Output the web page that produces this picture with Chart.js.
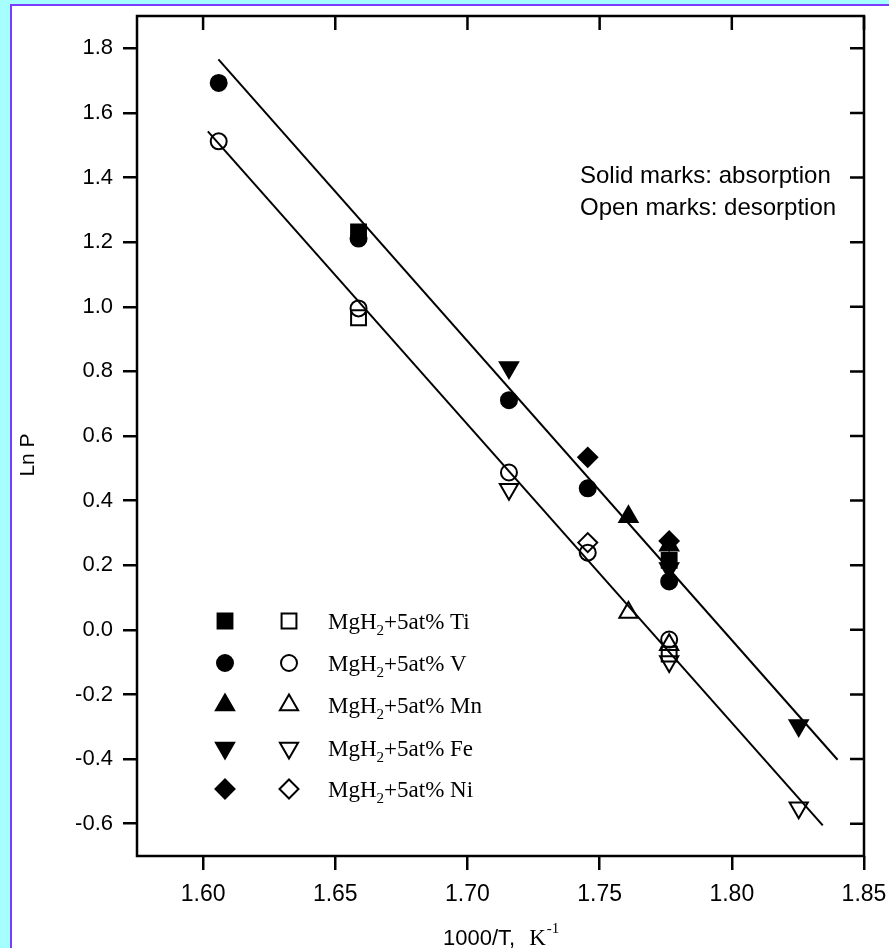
<!DOCTYPE html>
<html>
<head>
<meta charset="utf-8">
<script src="https://cdn.jsdelivr.net/npm/chart.js@4.4.1/dist/chart.umd.min.js"></script>
<style>
  body { margin: 0; background: #a6ffff; }
  canvas { display: block; }
</style>
</head>
<body>
<canvas id="plot" width="889" height="948"></canvas>
<script>
// x = 1000/T (K^-1), y = Ln P ; [x, y] pairs
const tiSolid = [[1.6588, 1.232], [1.7763, 0.215]];
const tiOpen  = [[1.6588, 0.966], [1.7763, -0.075]];
const vSolid  = [[1.6059, 1.693], [1.6588, 1.211], [1.7157, 0.711], [1.7455, 0.438], [1.7763, 0.150]];
const vOpen   = [[1.6059, 1.512], [1.6588, 0.995], [1.7157, 0.487], [1.7455, 0.239], [1.7763, -0.030]];
const mnSolid = [[1.7609, 0.350], [1.7763, 0.262]];
const mnOpen  = [[1.7609, 0.054], [1.7763, -0.046]];
const feSolid = [[1.7157, 0.812], [1.7763, 0.190], [1.8253, -0.296]];
const feOpen  = [[1.7157, 0.435], [1.7763, -0.098], [1.8253, -0.551]];
const niSolid = [[1.7455, 0.534], [1.7763, 0.275]];
const niOpen  = [[1.7455, 0.270]];

// the two fitted lines (end points)
const fitAbs = [[1.6058, 1.766], [1.8400, -0.402]];
const fitDes = [[1.6018, 1.543], [1.8344, -0.605]];

const xTicks = [1.60, 1.65, 1.70, 1.75, 1.80, 1.85];
const yTicks = [-0.6, -0.4, -0.2, 0.0, 0.2, 0.4, 0.6, 0.8, 1.0, 1.2, 1.4, 1.6, 1.8];

const legendNames = ['Ti', 'V', 'Mn', 'Fe', 'Ni'];

const sans = "'Liberation Sans', Arial, sans-serif";
const serif = "'Liberation Serif', 'Times New Roman', serif";

// marker look per element
const markers = [
  { style: 'rect', r: 10.5, rot: 0 },
  { style: 'circle', r: 8, rot: 0 },
  { style: 'triangle', r: 10.5, rot: 0 },
  { style: 'triangle', r: 10.5, rot: 180 },
  { style: 'rectRot', r: 9.5, rot: 0 }
];

function toPts(arr) {
  return arr.map(function(p) { return { x: p[0], y: p[1] }; });
}

function markSet(data, m, solid) {
  return {
    data: toPts(data),
    showLine: false,
    pointStyle: m.style,
    pointRadius: m.r,
    pointRotation: m.rot,
    pointBorderWidth: 2,
    pointBorderColor: '#000',
    pointBackgroundColor: solid ? '#000' : 'rgba(0,0,0,0)'
  };
}

function lineSet(data) {
  return {
    data: toPts(data),
    showLine: true,
    borderColor: '#000',
    borderWidth: 2,
    pointRadius: 0
  };
}

const solids = [tiSolid, vSolid, mnSolid, feSolid, niSolid];
const opens = [tiOpen, vOpen, mnOpen, feOpen, niOpen];

let datasets = [lineSet(fitAbs), lineSet(fitDes)];
solids.forEach(function(d, i) { datasets.push(markSet(d, markers[i], true)); });
opens.forEach(function(d, i) { datasets.push(markSet(d, markers[i], false)); });

const backdrop = {
  id: 'backdrop',
  beforeDraw: function(chart) {
    const ctx = chart.ctx;
    ctx.save();
    ctx.fillStyle = '#a6ffff';
    ctx.fillRect(0, 0, chart.width, chart.height);
    ctx.fillStyle = '#ffffff';
    ctx.fillRect(12, 6, chart.width - 12, chart.height - 6);
    ctx.strokeStyle = '#7a3cff';
    ctx.lineWidth = 2;
    ctx.beginPath();
    ctx.moveTo(11, chart.height);
    ctx.lineTo(11, 5);
    ctx.lineTo(chart.width, 5);
    ctx.stroke();
    ctx.restore();
  }
};

const frame = {
  id: 'frame',
  afterDatasetsDraw: function(chart) {
    const ctx = chart.ctx;
    const a = chart.chartArea;
    const xs = chart.scales.x, ys = chart.scales.y;
    ctx.save();
    ctx.strokeStyle = '#000';
    ctx.lineWidth = 2.5;
    ctx.strokeRect(a.left, a.top, a.right - a.left, a.bottom - a.top);
    // inward ticks on top and right
    ctx.beginPath();
    xs.ticks.forEach(function(t) {
      const px = xs.getPixelForValue(t.value);
      ctx.moveTo(px, a.top);
      ctx.lineTo(px, a.top + 14);
    });
    ys.ticks.forEach(function(t) {
      const py = ys.getPixelForValue(t.value);
      ctx.moveTo(a.right, py);
      ctx.lineTo(a.right - 14, py);
    });
    ctx.stroke();

    // note text
    ctx.fillStyle = '#000';
    ctx.font = '24px ' + sans;
    ctx.textAlign = 'left';
    ctx.textBaseline = 'alphabetic';
    ctx.fillText('Solid marks: absorption', 580, 183);
    ctx.fillText('Open marks: desorption', 580, 215);

    // legend
    const rowY = [621, 663, 705, 748, 789];
    legendNames.forEach(function(name, i) {
      const m = markers[i];
      const y = rowY[i];
      ctx.lineWidth = 2;
      ctx.strokeStyle = '#000';
      ctx.fillStyle = '#000';
      Chart.helpers.drawPoint(ctx, { pointStyle: m.style, radius: m.r, rotation: m.rot, borderWidth: 2 }, 225, y);
      ctx.fillStyle = '#fff';
      Chart.helpers.drawPoint(ctx, { pointStyle: m.style, radius: m.r, rotation: m.rot, borderWidth: 2 }, 289, y);
      ctx.fillStyle = '#000';
      let x = 328;
      const base = y + 8;
      ctx.font = '23px ' + serif;
      ctx.fillText('MgH', x, base);
      x += ctx.measureText('MgH').width;
      ctx.font = '15px ' + serif;
      ctx.fillText('2', x, base + 6);
      x += ctx.measureText('2').width;
      ctx.font = '23px ' + serif;
      ctx.fillText('+5at% ' + name, x, base);
    });

    // axis titles
    ctx.font = '22px ' + sans;
    ctx.fillText('1000/T,', 443, 945);
    let tx = 443 + ctx.measureText('1000/T,').width + 14;
    ctx.font = '23px ' + serif;
    ctx.fillText('K', tx, 945);
    tx += ctx.measureText('K').width + 1;
    ctx.font = '15px ' + serif;
    ctx.fillText('-1', tx, 933);

    ctx.translate(34, 455);
    ctx.rotate(-Math.PI / 2);
    ctx.font = '21px ' + sans;
    ctx.textAlign = 'center';
    ctx.fillText('Ln P', 0, 0);
    ctx.restore();
  }
};

new Chart(document.getElementById('plot'), {
  type: 'scatter',
  data: { datasets: datasets },
  options: {
    responsive: false,
    animation: false,
    devicePixelRatio: 1,
    layout: { padding: { top: 16, right: 25, left: 0, bottom: 0 } },
    plugins: { legend: { display: false }, tooltip: { enabled: false } },
    scales: {
      x: {
        type: 'linear',
        min: 1.575,
        max: 1.85,
        afterFit: function(s) {
          s.height = 92;
          s.paddingLeft = 0; s.paddingRight = 0;
        },
        afterBuildTicks: function(s) { s.ticks = xTicks.map(function(v) { return { value: v }; }); },
        border: { display: false },
        grid: { drawOnChartArea: false, drawTicks: true, tickLength: 14, lineWidth: 2.5, color: '#000' },
        ticks: {
          padding: 11,
          color: '#000',
          font: { family: sans, size: 23 },
          maxRotation: 0,
          callback: function(v) { return v.toFixed(2); }
        }
      },
      y: {
        type: 'linear',
        min: -0.7,
        max: 1.9,
        afterFit: function(s) {
          s.width = 137;
          s.paddingTop = 0; s.paddingBottom = 0;
        },
        afterBuildTicks: function(s) { s.ticks = yTicks.map(function(v) { return { value: v }; }); },
        border: { display: false },
        grid: { drawOnChartArea: false, drawTicks: true, tickLength: 14, lineWidth: 2.5, color: '#000' },
        ticks: {
          padding: 10,
          color: '#000',
          font: { family: sans, size: 22 },
          callback: function(v) { return Math.abs(v) < 1e-9 ? '0.0' : v.toFixed(1); }
        }
      }
    }
  },
  plugins: [backdrop, frame]
});
</script>
</body>
</html>
